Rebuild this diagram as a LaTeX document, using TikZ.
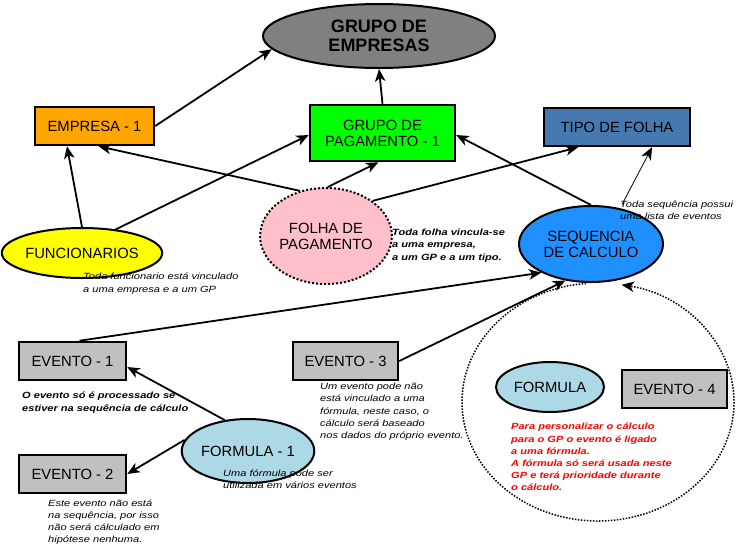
\documentclass[tikz,border=0pt]{standalone}
\usepackage{fontspec}
\setmainfont{Liberation Sans}
\newfontfamily\notefont[FakeStretch=1.23]{Liberation Sans}
\usetikzlibrary{arrows.meta,shapes.geometric}
\definecolor{cGE}{HTML}{808080}
\definecolor{cEmp}{HTML}{FFA500}
\definecolor{cGP}{HTML}{00FF00}
\definecolor{cTipo}{HTML}{4679B0}
\definecolor{cFun}{HTML}{FFFF00}
\definecolor{cPink}{HTML}{FFC0CB}
\definecolor{cSeq}{HTML}{1E90FF}
\definecolor{cEv}{HTML}{C0C0C0}
\definecolor{cForm}{HTML}{ADD8E6}
\definecolor{cRed}{HTML}{FF0000}
\begin{document}
\begin{tikzpicture}[x=1pt,y=-1pt,
  nodefont/.style={font=\fontsize{14.8}{16}\selectfont},
  box/.style={draw, line width=2.5pt, inner sep=0pt, align=center, nodefont},
  ell/.style={ellipse, draw, line width=2pt, inner sep=0pt, align=center, nodefont},
  arr/.style={line width=1.8pt, -{Stealth[length=12.5pt,width=10.5pt,inset=3.5pt]}},
  thinarr/.style={line width=0.8pt, -{Stealth[length=12.5pt,width=10.5pt,inset=3.5pt]}},
  note/.style={anchor=north west, inner sep=0pt, align=left,
    font={\notefont\itshape\fontsize{9}{12.2}\selectfont}},
  bnote/.style={note, font={\notefont\bfseries\itshape\fontsize{9}{12.2}\selectfont}},
  bigdot/.style={line width=1.5pt, dash pattern=on 1.5pt off 1.5pt,
    -{Stealth[length=12.5pt,width=10.5pt,inset=3.5pt]}}
]
\useasboundingbox[fill=white] (0,0) rectangle (741,549);

% nodes
\node[ell, fill=cGE, minimum width=232pt, minimum height=64pt,
  font=\bfseries\fontsize{18}{19.5}\selectfont] (ge) at (379,36) {GRUPO DE\\EMPRESAS};
\node[box, fill=cEmp, minimum width=119pt, minimum height=38pt] (emp) at (94.5,126) {EMPRESA - 1};
\node[box, fill=cGP, minimum width=145pt, minimum height=56pt] (gp) at (382.5,133) {GRUPO DE\\PAGAMENTO - 1};
\node[box, fill=cTipo, minimum width=146pt, minimum height=38pt] (tipo) at (617,127) {TIPO DE FOLHA};
\node[ell, fill=cFun, minimum width=160pt, minimum height=50pt] (fun) at (82,253) {FUNCIONARIOS};
\node[ell, fill=cPink, dash pattern=on 2pt off 2pt, minimum width=122pt, minimum height=96pt] (folha) at (326,236) {FOLHA DE\\PAGAMENTO};
\node[ell, fill=cSeq, minimum width=144pt, minimum height=76pt] (seq) at (591,244) {SEQUENCIA\\DE CALCULO};
\node[box, fill=cEv, minimum width=107pt, minimum height=38pt] (ev1) at (72.5,361) {EVENTO - 1};
\node[box, fill=cEv, minimum width=107pt, minimum height=38pt] (ev2) at (72.5,474) {EVENTO - 2};
\node[box, fill=cEv, minimum width=105pt, minimum height=38pt] (ev3) at (345.5,361) {EVENTO - 3};
\node[box, fill=cEv, minimum width=105pt, minimum height=38pt] (ev4) at (674.5,389) {EVENTO - 4};
\node[ell, fill=cForm, minimum width=128pt, minimum height=64pt] (f1) at (248,451) {FORMULA - 1};
\node[ell, fill=cForm, minimum width=108pt, minimum height=50pt] (form) at (550,387) {FORMULA};

% annotations
\node[note] (a1) at (83,273) {Toda funcionario está vinculado\\a uma empresa e a um GP};
\node[bnote] (a2) at (392,229) {Toda folha vincula-se\\a uma empresa,\\a um GP e a um tipo.};
\node[note] (a3) at (620,200.5) {Toda sequência possui\\uma lista de eventos};
\node[bnote] (a4) at (22,392) {O evento só é processado se\\estiver na sequência de cálculo};
\node[note] (a5) at (48,499.5) {Este evento não está\\na sequência, por isso\\não será cálculado em\\hipótese nenhuma.};
\node[note] (a6) at (223,469.5) {Uma fórmula pode ser\\utilizada em vários eventos};
\node[note] (a7) at (320,383) {Um evento pode não\\está vinculado a uma\\fórmula, neste caso, o\\cálculo será baseado\\nos dados do próprio evento.};
\node[bnote, text=cRed] (a8) at (511,423) {Para personalizar o cálculo\\para o GP o evento é ligado\\a uma fórmula.\\A fórmula só será usada neste\\GP e terá prioridade durante\\o cálculo.};

% connectors
\draw[arr] (emp.east) -- (ge.187);
\draw[arr] (gp.north) -- (ge.south);
\draw[arr] (fun.north) -- ([xshift=-27.5pt]emp.south);
\draw[arr] (fun.35) -- ([yshift=-2pt]gp.west);
\draw[arr] (folha.120) -- ([xshift=4pt]emp.south);
\draw[arr] (folha.88) -- ([xshift=-4pt]gp.south);
\draw[arr] (folha.37) -- ([xshift=-39pt]tipo.south);
\draw[arr] (seq.north) -- ([yshift=-2pt]gp.east);
\draw[thinarr] ([xshift=2pt,yshift=-4pt]a3.north west) -- ([xshift=35pt]tipo.south);
\draw[arr] ([xshift=7pt]ev1.north) -- (seq.210);
\draw[arr] (ev3.east) -- (seq.235);
\draw[arr] (f1.127) -- ([yshift=-6pt]ev1.east);
\draw[arr] (f1.170) -- (ev2.east);
% dotted group around FORMULA and EVENTO - 4, ending at SEQUENCIA
\draw[bigdot] ([shift={(95:136pt and 119pt)}]598,402) arc[start angle=95,end angle=440,x radius=136pt,y radius=119pt];
\end{tikzpicture}
\end{document}
